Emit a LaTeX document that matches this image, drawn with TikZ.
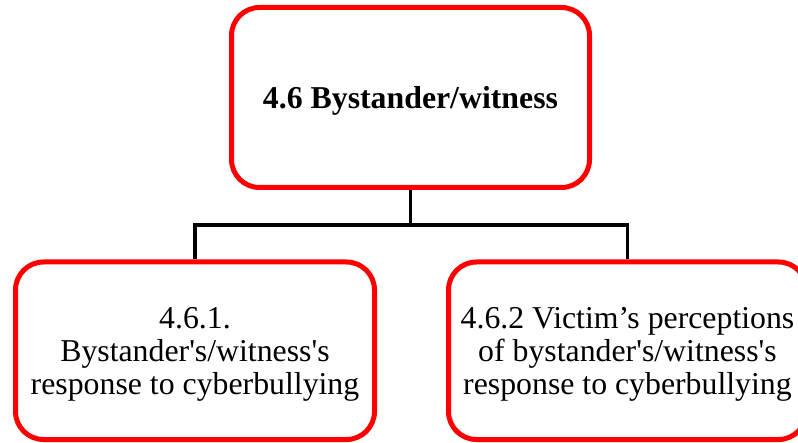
\documentclass[tikz,border=0pt]{standalone}
\usepackage{fontspec}
\setmainfont[Ligatures=TeXOff]{Liberation Serif}
\begin{document}
\begin{tikzpicture}[x=1pt,y=1pt,
  box/.style={draw=red, line width=5pt, rounded corners=28pt, fill=white, inner sep=0pt},
  txt/.style={font=\fontsize{31.8}{33}\selectfont, align=center, inner sep=0pt},
  conn/.style={draw=black, line width=3.7pt}]
\useasboundingbox (0,0) rectangle (798,442);
% boxes
\node[box, minimum width=358pt, minimum height=180pt] (top) at (410.5,344.5) {};
\node[box, minimum width=359pt, minimum height=177.5pt] (left) at (195,91.25) {};
\node[box, minimum width=358pt, minimum height=177.5pt] (right) at (627.5,91.25) {};
% texts
\node[txt, font=\fontsize{31.8}{33}\selectfont\bfseries] (toptxt) at ([yshift=-3pt]top.center) {4.6 Bystander/witness};
\node[txt] (lefttxt) at ([yshift=-4pt]left.center) {4.6.1.\\Bystander's/witness's\\response to cyberbullying};
\node[txt] (righttxt) at ([yshift=-4pt]right.center) {4.6.2 Victim’s perceptions\\of bystander's/witness's\\response to cyberbullying};
% connectors
\coordinate (hub) at (410.5,217.3);
\draw[conn] (top.south) -- (hub);
\draw[conn] (left.north) |- (hub) -| (right.north);
\end{tikzpicture}
\end{document}
